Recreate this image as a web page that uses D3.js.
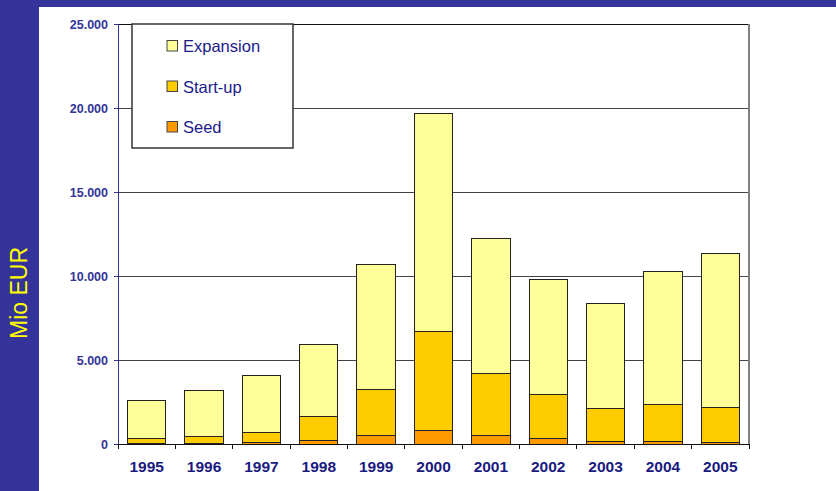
<!DOCTYPE html>
<html><head><meta charset="utf-8">
<script src="https://cdn.jsdelivr.net/npm/d3@7/dist/d3.min.js"></script>
<style>html,body{margin:0;padding:0;background:#fff;}svg{display:block;}</style>
</head><body>
<script>
const years = ["1995","1996","1997","1998","1999","2000","2001","2002","2003","2004","2005"];
const seed      = [20, 40, 100, 180, 500, 815, 535, 300, 160, 160, 100];
const startup   = [320, 400, 614, 1470, 2715, 5855, 3635, 2635, 1960, 2200, 2060];
const expansion = [2260, 2730, 3376, 4300, 7460, 12990, 8050, 6865, 6250, 7920, 9190];
const seriesNames = ["Seed", "Start-up", "Expansion"];
const seriesColors = ["#FF9900", "#FFCC00", "#FFFF99"];
const yTicks = [0, 5000, 10000, 15000, 20000, 25000];
const yTitle = "Mio EUR";

const W = 836, H = 491;
const svg = d3.select("body").append("svg").attr("width", W).attr("height", H);

// frame bands
svg.append("rect").attr("x",0).attr("y",0).attr("width",W).attr("height",7).attr("fill","#333399");
svg.append("rect").attr("x",0).attr("y",0).attr("width",39).attr("height",H).attr("fill","#333399");
svg.append("text").attr("transform","translate(27,293) rotate(-90)")
  .attr("text-anchor","middle").attr("fill","#FFFF00")
  .attr("font-family","Liberation Sans, Arial, sans-serif").attr("font-size",23)
  .text(yTitle);

const L = 118, R = 749, T = 24, B = 444;
const x = d3.scaleBand().domain(years).range([L, R]).paddingInner(0.33).paddingOuter(0.165);
const y = d3.scaleLinear().domain([0, 25000]).range([B, T]);
const loc = d3.formatLocale({decimal: ",", thousands: ".", grouping: [3], currency: ["", ""]});
const fmt = loc.format(",.0f");

// grid lines
svg.append("g").selectAll("line").data(yTicks.filter(d => d > 0)).join("line")
  .attr("x1", L).attr("x2", R).attr("y1", d => y(d)).attr("y2", d => y(d))
  .attr("stroke", d => d === 25000 ? "#111" : "#444").attr("stroke-width", 1)
  .attr("shape-rendering","crispEdges");
// right border
svg.append("line").attr("x1", R).attr("x2", R).attr("y1", T).attr("y2", B)
  .attr("stroke", "#808080").attr("stroke-width", 2).attr("shape-rendering","crispEdges");

// stacked data
const table = years.map((yr, i) => ({year: yr, Seed: seed[i], "Start-up": startup[i], Expansion: expansion[i]}));
const stack = d3.stack().keys(seriesNames)(table);

svg.append("g").selectAll("g").data(stack).join("g")
  .attr("fill", (d, i) => seriesColors[i])
  .selectAll("rect").data(d => d).join("rect")
  .attr("x", d => x(d.data.year))
  .attr("width", x.bandwidth())
  .attr("y", d => y(d[1]))
  .attr("height", d => y(d[0]) - y(d[1]))
  .attr("stroke", "#222").attr("stroke-width", 1)
  .attr("shape-rendering","crispEdges");

// y axis
const yAxis = d3.axisLeft(y).tickValues(yTicks).tickFormat(fmt).tickSize(4).tickPadding(6);
const gy = svg.append("g").attr("transform", `translate(${L},0)`).call(yAxis);
gy.select(".domain").attr("stroke", "#333399");
gy.selectAll(".tick line").attr("stroke", "#333399");
gy.selectAll("text").attr("fill", "#333399").attr("font-family","Liberation Sans, Arial, sans-serif")
  .attr("font-size", 12.5).attr("font-weight","bold");

// x axis
const xAxis = d3.axisBottom(x).tickSize(0).tickPadding(17);
const gx = svg.append("g").attr("transform", `translate(0,${B})`).call(xAxis);
gx.select(".domain").attr("stroke", "#111").attr("d", `M${L},0.5H${R}`);
gx.selectAll("text").attr("fill", "#1a1a80").attr("font-family","Liberation Sans, Arial, sans-serif")
  .attr("font-size", 15.5).attr("font-weight","bold");
// category separator ticks
const step = x.step();
gx.append("g").selectAll("line").data(d3.range(years.length + 1)).join("line")
  .attr("x1", i => L + i * step).attr("x2", i => L + i * step)
  .attr("y1", 0).attr("y2", 5).attr("stroke", "#111").attr("shape-rendering","crispEdges");

// legend
const lg = svg.append("g");
lg.append("rect").attr("x", 132).attr("y", 24).attr("width", 161).attr("height", 124)
  .attr("fill", "#fff").attr("stroke", "#333").attr("stroke-width", 1.5);
const legendItems = ["Expansion", "Start-up", "Seed"];
const legendColors = ["#FFFF99", "#FFCC00", "#FF9900"];
legendItems.forEach((name, i) => {
  const cy = 46 + i * 40.5;
  lg.append("rect").attr("x", 167).attr("y", cy - 5.5).attr("width", 10.5).attr("height", 10.5)
    .attr("fill", legendColors[i]).attr("stroke", "#444").attr("stroke-width", 1);
  lg.append("text").attr("x", 183).attr("y", cy + 6).attr("fill", "#1a1a8c")
    .attr("font-family","Liberation Sans, Arial, sans-serif").attr("font-size", 16.5).text(name);
});
</script>
</body></html>
